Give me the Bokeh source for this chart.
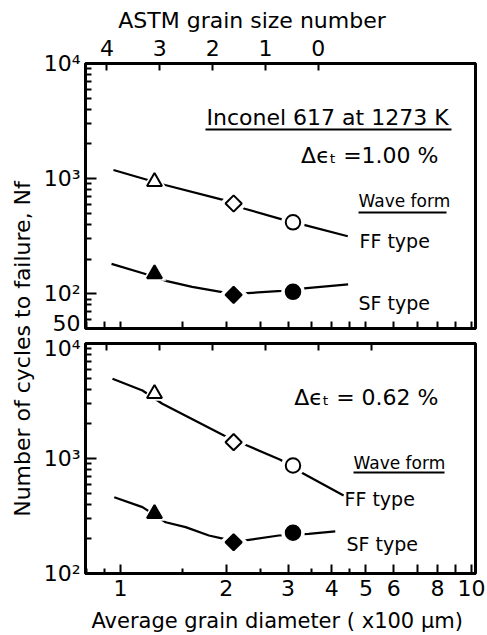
import numpy as np
from bokeh.plotting import figure
from bokeh.layouts import row, column
from bokeh.models import FixedTicker, LinearAxis, Range1d, LinearScale, Label, BoxAnnotation
from bokeh.embed import file_html
from bokeh.resources import INLINE

FONT = "DejaVu Sans"

# ---------------- data ----------------
grain_d = [1.25, 2.1, 3.1]            # average grain diameter (x100 um)

ff_100 = [942, 609, 418]              # d(eps)t = 1.00 %, FF type
sf_100 = [149, 98, 104]               # d(eps)t = 1.00 %, SF type
ff_062 = [3656, 1386, 869]            # d(eps)t = 0.62 %, FF type
sf_062 = [331, 187, 226]              # d(eps)t = 0.62 %, SF type

ff_100_curve_d = [0.955, 1.34, 1.96, 2.26, 2.9, 3.31, 4.44]
ff_100_curve_n = [1189, 882, 655, 548, 441, 399, 316]
sf_100_curve_d = [0.943, 1.165, 1.357, 1.6, 1.966, 2.241, 2.881, 3.393, 4.45]
sf_100_curve_n = [182, 150, 129, 115, 103, 101, 106, 112, 121]
ff_062_curve_d = [0.949, 1.155, 1.316, 1.971, 2.295, 2.853, 3.325, 4.32]
ff_062_curve_n = [4932, 3899, 2993, 1585, 1297, 975, 736, 477]
sf_062_curve_d = [0.96, 1.155, 1.345, 1.533, 1.786, 1.971, 2.271, 2.825, 3.434, 4.09]
sf_062_curve_n = [460, 378, 279, 253, 214, 200, 194, 214, 221, 232]

x_major = [1, 2, 3, 4, 5, 6, 7, 8, 9, 10]
x_major_labels = ["1", "2", "3", "4", "5", "6", "", "8", "", "10"]
x_minor = [0.8, 0.9, 1.5, 2.5, 3.5, 4.5]

top_y_major = [50, 100, 1000, 10000]
top_y_labels = ["50", "10²", "10³", "10⁴"]
bot_y_major = [100, 1000, 10000]
bot_y_labels = ["10²", "10³", "10⁴"]
y_minor_top = [60, 70, 80, 90] + [m * 100 for m in range(2, 10)] + [m * 1000 for m in range(2, 10)]
y_minor_bot = [m * 100 for m in range(2, 10)] + [m * 1000 for m in range(2, 10)]

astm_top = [4, 3, 2, 1, 0]
astm_bot = [4, 3, 2, 1, 0, -1]
ASTM_D0 = 3.66          # grain diameter (x100 um) of ASTM number 0
ASTM_STEP = np.log10(np.sqrt(2.0))

X_MIN, X_MAX = 0.795, 10.26

# ---------------- styles ----------------
MARKERS = [("triangle", 15, 0.0), ("square", 11.5, np.pi / 4), ("circle", 14.5, 0.0)]
HALO = 9
LW = 2.2


def style_panel(p, y_major, y_labels, y_minor, show_x_labels):
    p.grid.visible = False
    p.outline_line_color = "black"
    p.outline_line_width = 3
    p.background_fill_color = "white"
    p.border_fill_color = "white"

    xa = p.xaxis[0]
    xa.axis_line_width = 3
    xa.major_tick_line_width = 2
    xa.minor_tick_line_width = 2
    if show_x_labels:
        xa.ticker = FixedTicker(ticks=x_major, minor_ticks=x_minor)
        xa.major_label_overrides = {t: l for t, l in zip(x_major, x_major_labels)}
        xa.major_tick_in, xa.major_tick_out = 9, 0
        xa.minor_tick_in, xa.minor_tick_out = 5, 0
        xa.major_label_text_font = FONT
        xa.major_label_text_font_size = "22px"
        xa.major_label_text_color = "black"
        xa.major_label_standoff = 6
        xa.axis_label = "Average grain diameter  ( x100 µm)"
        xa.axis_label_text_font = FONT
        xa.axis_label_text_font_size = "21px"
        xa.axis_label_text_font_style = "normal"
        xa.axis_label_text_color = "black"
        xa.axis_label_standoff = 10
    else:
        # tick marks only, no tick labels
        xa.ticker = FixedTicker(ticks=[], minor_ticks=x_major + x_minor)
        xa.minor_tick_in, xa.minor_tick_out = 7, 0
        xa.major_tick_in, xa.major_tick_out = 0, 0

    ya = p.yaxis[0]
    ya.ticker = FixedTicker(ticks=y_major, minor_ticks=y_minor)
    ya.major_label_overrides = {t: l for t, l in zip(y_major, y_labels)}
    ya.major_tick_in, ya.major_tick_out = 11, 0
    ya.minor_tick_in, ya.minor_tick_out = 6, 0
    ya.major_tick_line_width = 2
    ya.minor_tick_line_width = 2
    ya.axis_line_width = 3
    ya.major_label_text_font = FONT
    ya.major_label_text_font_size = "22px"
    ya.major_label_text_color = "black"
    ya.major_label_standoff = 5


def add_astm_axis(p, ticks, show_labels):
    g_start = (np.log10(ASTM_D0) - np.log10(X_MIN)) / ASTM_STEP
    g_end = (np.log10(ASTM_D0) - np.log10(X_MAX)) / ASTM_STEP
    p.extra_x_ranges = {"astm": Range1d(start=g_start, end=g_end)}
    p.extra_x_scales = {"astm": LinearScale()}
    if show_labels:
        ax = LinearAxis(x_range_name="astm", ticker=FixedTicker(ticks=ticks, minor_ticks=[]))
        ax.major_tick_in, ax.major_tick_out = 7, 0
        ax.major_label_text_font = FONT
        ax.major_label_text_font_size = "22px"
        ax.major_label_text_color = "black"
        ax.major_label_standoff = 8
    else:
        ax = LinearAxis(x_range_name="astm", ticker=FixedTicker(ticks=[], minor_ticks=ticks))
        ax.major_tick_in, ax.major_tick_out = 0, 0
        ax.minor_tick_in, ax.minor_tick_out = 7, 0
    ax.minor_tick_line_width = 2
    ax.major_tick_line_width = 2
    ax.axis_line_width = 3
    p.add_layout(ax, "above")


def add_series(p, cd, cn, ys, filled):
    p.line(cd, cn, line_color="black", line_width=LW)
    for (mk, sz, ang), x, y in zip(MARKERS, grain_d, ys):
        p.scatter([x], [y], marker=mk, size=sz + HALO, angle=ang,
                  fill_color="white", line_color=None)
    for (mk, sz, ang), x, y in zip(MARKERS, grain_d, ys):
        p.scatter([x], [y], marker=mk, size=sz, angle=ang,
                  fill_color="black" if filled else "white",
                  line_color="black", line_width=2)


def text(p, s, x, y, size, align="left", angle=0.0):
    p.add_layout(Label(x=x, y=y, x_units="screen", y_units="screen", text=s,
                       text_font=FONT, text_font_size=size, text_align=align,
                       text_baseline="middle", text_color="black", angle=angle))


def underline(p, x0, x1, y):
    p.add_layout(BoxAnnotation(left=x0, right=x1, bottom=y - 1, top=y + 1,
                               left_units="screen", right_units="screen",
                               top_units="screen", bottom_units="screen",
                               fill_color="black", fill_alpha=1.0, line_color=None))


def blank(width, height):
    f = figure(width=width, height=height, x_range=(0, 1), y_range=(0, 1),
               x_axis_location=None, y_axis_location=None,
               output_backend="svg", toolbar_location=None, min_border=0)
    f.grid.visible = False
    f.outline_line_color = None
    return f


# ---------------- title strip (top axis title) ----------------
title_strip = blank(447, 34)
text(title_strip, "ASTM  grain  size  number", 177, 14, "22px", "center")

# ---------------- top panel ----------------
top = figure(width=447, height=301, x_axis_type="log", y_axis_type="log",
             x_range=(X_MIN, X_MAX), y_range=(50, 10000),
             output_backend="svg", toolbar_location=None,
             min_border_left=44, min_border_right=12, min_border_top=29, min_border_bottom=7)
style_panel(top, top_y_major, top_y_labels, y_minor_top, False)
add_astm_axis(top, astm_top, True)
add_series(top, ff_100_curve_d, ff_100_curve_n, ff_100, False)
add_series(top, sf_100_curve_d, sf_100_curve_n, sf_100, True)
text(top, "Inconel 617 at 1273 K", 121, 211, "22px")
underline(top, 120, 366, 199)
text(top, "Δϵ\u209c =1.00 %", 353, 173, "22px", "right")
text(top, "Wave form", 273, 128, "17px")
underline(top, 273, 361, 116)
text(top, "FF type", 274, 88, "19px")
text(top, "SF type", 273, 26, "19px")

# ---------------- bottom panel ----------------
bot = figure(width=447, height=300, x_axis_type="log", y_axis_type="log",
             x_range=top.x_range, y_range=(100, 10000),
             output_backend="svg", toolbar_location=None,
             min_border_left=44, min_border_right=12, min_border_top=8, min_border_bottom=62)
style_panel(bot, bot_y_major, bot_y_labels, y_minor_bot, True)
add_astm_axis(bot, astm_bot, False)
add_series(bot, ff_062_curve_d, ff_062_curve_n, ff_062, False)
add_series(bot, sf_062_curve_d, sf_062_curve_n, sf_062, True)
text(bot, "Δϵ\u209c = 0.62 %", 353, 176, "22px", "right")
text(bot, "Wave form", 268, 111, "17px")
underline(bot, 268, 359, 101)
text(bot, "FF  type", 259, 75, "19px")
text(bot, "SF type", 261, 30, "19px")

# ---------------- shared y label ----------------
lab = blank(40, 635)
text(lab, "Number of cycles to failure,  Nf", 22, 290, "22px", "center", np.pi / 2)

layout = row(lab, column(title_strip, top, bot))
open("out.html", "w").write(file_html(layout, INLINE))
